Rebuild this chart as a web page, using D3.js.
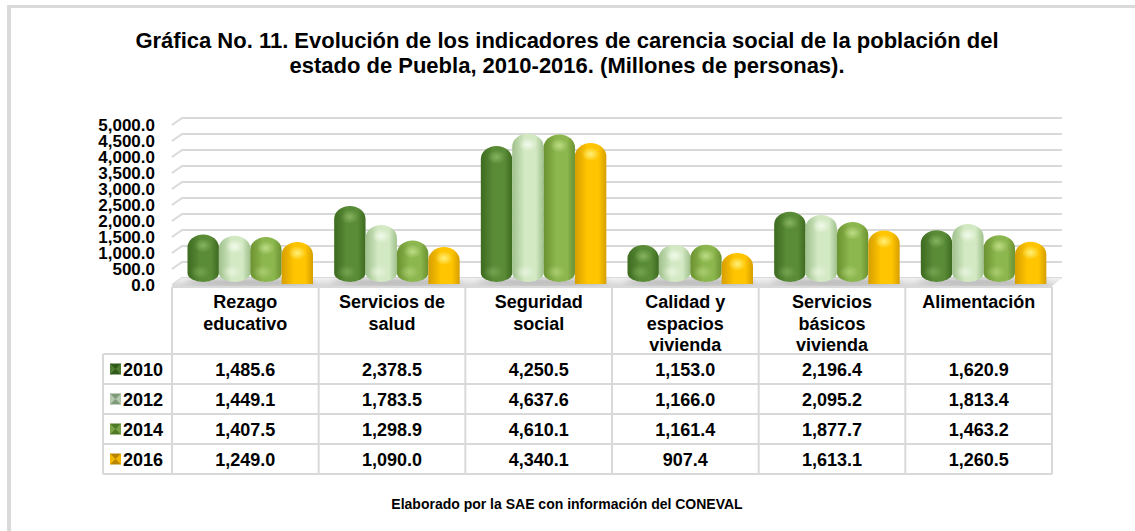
<!DOCTYPE html>
<html>
<head>
<meta charset="utf-8">
<script src="https://cdn.jsdelivr.net/npm/d3@7"></script>
<style>
  body { margin: 0; background: #fff; }
  svg { display: block; font-family: "Liberation Sans", Arial, sans-serif; }
</style>
</head>
<body>
<svg id="chart" width="1135" height="531"></svg>
<script>
// data
const categories = ["Rezago educativo", "Servicios de salud", "Seguridad social",
  "Calidad y espacios vivienda", "Servicios básicos vivienda", "Alimentación"];
const categoryLines = [["Rezago", "educativo"], ["Servicios de", "salud"], ["Seguridad", "social"],
  ["Calidad y", "espacios", "vivienda"], ["Servicios", "básicos", "vivienda"], ["Alimentación"]];
const years = ["2010", "2012", "2014", "2016"];
const values2010 = [1485.6, 2378.5, 4250.5, 1153.0, 2196.4, 1620.9];
const values2012 = [1449.1, 1783.5, 4637.6, 1166.0, 2095.2, 1813.4];
const values2014 = [1407.5, 1298.9, 4610.1, 1161.4, 1877.7, 1463.2];
const values2016 = [1249.0, 1090.0, 4340.1, 907.4, 1613.1, 1260.5];
const yTicks = [0, 500, 1000, 1500, 2000, 2500, 3000, 3500, 4000, 4500, 5000];

const series = [values2010, values2012, values2014, values2016];
// edge, mid, light
const colors = [
  ["#3d6a20", "#5a8c37", "#86b35f"],
  ["#9fc18c", "#d3e9c4", "#f2faeb"],
  ["#6a9230", "#8cb64e", "#bcdc85"],
  ["#d69e00", "#ffc500", "#fff07a"]
];
// legend key shades: dark, light
const keyColors = [["#2f5a1a", "#4f7d33"], ["#7f9a78", "#b4c8ad"], ["#4f7a25", "#7aa147"], ["#b98500", "#f0b800"]];

const svg = d3.select("#chart");
const fmt = d3.format(",.1f");

// outer frame
svg.append("rect").attr("x", 7).attr("y", 5).attr("width", 1128).attr("height", 3).attr("fill", "#d9d9d9");
svg.append("rect").attr("x", 7).attr("y", 5).attr("width", 4).attr("height", 526).attr("fill", "#d9d9d9");

// title
svg.append("text")
  .attr("x", 567).attr("text-anchor", "middle")
  .attr("font-size", 22).attr("font-weight", "bold")
  .selectAll("tspan")
  .data(["Gráfica No. 11. Evolución de los indicadores de carencia social de la población del",
         "estado de Puebla, 2010-2016. (Millones de personas)."])
  .join("tspan")
  .attr("x", 567).attr("y", (d, i) => 48 + i * 25)
  .text(d => d);

// scales
var x = d3.scaleBand().domain(categories).range([172, 1052]);
var xs = d3.scaleBand().domain(years).range([15.5, 141]);
var y = d3.scaleLinear().domain([0, 5000]).range([282, 122]);
var rows = d3.scaleBand().domain(years).range([354, 474]);
var depth = 10;

// gradients
var defs = svg.append("defs");
colors.forEach(function(c, i) {
  var g = defs.append("linearGradient").attr("id", "bar" + i)
    .attr("x1", 0).attr("x2", 1).attr("y1", 0).attr("y2", 0);
  g.append("stop").attr("offset", "0%").attr("stop-color", c[0]);
  g.append("stop").attr("offset", "40%").attr("stop-color", c[1]);
  g.append("stop").attr("offset", "75%").attr("stop-color", c[1]);
  g.append("stop").attr("offset", "100%").attr("stop-color", c[0]);
  var h = defs.append("radialGradient").attr("id", "hi" + i);
  h.append("stop").attr("offset", "0%").attr("stop-color", c[2]).attr("stop-opacity", 1);
  h.append("stop").attr("offset", "100%").attr("stop-color", c[2]).attr("stop-opacity", 0);
});
defs.append("filter").attr("id", "blur")
  .append("feGaussianBlur").attr("stdDeviation", 2.5);
var floorGrad = defs.append("linearGradient").attr("id", "floor")
  .attr("x1", 0).attr("x2", 0).attr("y1", 0).attr("y2", 1);
floorGrad.append("stop").attr("offset", "0%").attr("stop-color", "#f2f2f2");
floorGrad.append("stop").attr("offset", "100%").attr("stop-color", "#d6d6d6");

// gridlines (3D wall)
var grid = svg.append("g");
yTicks.forEach(function(t) {
  grid.append("path")
    .attr("d", "M172," + (y(t) + 3) + "L" + (172 + depth) + "," + (y(t) - 4) + "L" + (1052 + depth) + "," + (y(t) - 4))
    .attr("fill", "none").attr("stroke", "#d9d9d9").attr("stroke-width", 2);
});

// y axis labels
svg.append("g").selectAll("text").data(yTicks).join("text")
  .attr("x", 155).attr("y", d => y(d) + 9)
  .attr("text-anchor", "end").attr("font-size", 17).attr("font-weight", "bold")
  .text(d => fmt(d));

// floor
svg.append("path")
  .attr("d", "M172,286L1052,286L" + (1052 + depth) + ",278L" + (172 + depth) + ",278Z")
  .attr("fill", "url(#floor)");
svg.append("g").selectAll("ellipse").data(categories).join("ellipse")
  .attr("cx", d => x(d) + 78).attr("cy", 282)
  .attr("rx", 66).attr("ry", 3.5)
  .attr("fill", "#a8a8a8").attr("opacity", 0.7).attr("filter", "url(#blur)");

// bars
function barPath(x0, top, bottom, w, flat) {
  var rt = Math.min(13, (bottom - top) / 2);
  var rb = flat ? 0 : Math.min(9, (bottom - top) / 2);
  var p = "M" + x0 + "," + (top + rt) +
    "A" + (w / 2) + "," + rt + " 0 0 1 " + (x0 + w) + "," + (top + rt);
  if (flat) {
    p += "L" + (x0 + w) + "," + bottom + "L" + x0 + "," + bottom + "Z";
  } else {
    p += "L" + (x0 + w) + "," + (bottom - rb) +
      "A" + (w / 2) + "," + rb + " 0 0 1 " + x0 + "," + (bottom - rb) + "Z";
  }
  return p;
}

var bars = svg.append("g");
series.forEach(function(vals, i) {
  var g = bars.append("g");
  var flat = i === 3;
  g.selectAll("path").data(vals).join("path")
    .attr("d", (d, j) => barPath(x(categories[j]) + xs(years[i]), y(d), flat ? 284 : 282, xs.bandwidth(), flat))
    .attr("fill", "url(#bar" + i + ")");
  // specular highlight near the top
  g.selectAll("ellipse.top").data(vals).join("ellipse").attr("class", "top")
    .attr("cx", (d, j) => x(categories[j]) + xs(years[i]) + xs.bandwidth() * 0.5)
    .attr("cy", d => y(d) + 11)
    .attr("rx", 9).attr("ry", 7)
    .attr("fill", "url(#hi" + i + ")");
  if (!flat) {
    // soft reflection at the bottom
    g.selectAll("ellipse.bot").data(vals).join("ellipse").attr("class", "bot")
      .attr("cx", (d, j) => x(categories[j]) + xs(years[i]) + xs.bandwidth() * 0.4)
      .attr("cy", 272)
      .attr("rx", 10).attr("ry", 7)
      .attr("fill", "url(#hi" + i + ")").attr("opacity", 0.6);
  }
});

// data table
var table = svg.append("g").attr("stroke", "#d9d9d9").attr("stroke-width", 2);
table.append("line").attr("x1", 172).attr("x2", 1052).attr("y1", 287).attr("y2", 287);
years.forEach(function(yr) {
  table.append("line").attr("x1", 103).attr("x2", 1052)
    .attr("y1", rows(yr)).attr("y2", rows(yr));
});
table.append("line").attr("x1", 103).attr("x2", 1052).attr("y1", 474).attr("y2", 474);
table.append("line").attr("x1", 103).attr("x2", 103).attr("y1", 354).attr("y2", 474);
categories.concat([null]).forEach(function(c) {
  var xx = c ? x(c) : 1052;
  table.append("line").attr("x1", xx).attr("x2", xx).attr("y1", 287).attr("y2", 474);
});

// header labels
var head = svg.append("g").attr("font-size", 18).attr("font-weight", "bold").attr("text-anchor", "middle");
categoryLines.forEach(function(lines, j) {
  var cx = x(categories[j]) + x.bandwidth() / 2;
  head.append("text").selectAll("tspan").data(lines).join("tspan")
    .attr("x", cx).attr("y", (d, k) => 308 + k * 21.7)
    .text(d => d);
});

// values
var cells = svg.append("g").attr("font-size", 18).attr("font-weight", "bold").attr("text-anchor", "middle");
series.forEach(function(vals, i) {
  cells.selectAll("text.s" + i).data(vals).join("text").attr("class", "s" + i)
    .attr("x", (d, j) => x(categories[j]) + x.bandwidth() / 2)
    .attr("y", rows(years[i]) + rows.bandwidth() / 2 + 6.5)
    .text(d => fmt(d));
});

// legend keys
var leg = svg.append("g");
years.forEach(function(yr, i) {
  var cy = rows(yr) + rows.bandwidth() / 2;
  leg.append("rect").attr("x", 110).attr("y", cy - 5.5).attr("width", 11).attr("height", 11)
    .attr("fill", keyColors[i][0]);
  leg.append("path")
    .attr("d", "M110," + (cy - 5.5) + "L115.5," + cy + "L110," + (cy + 5.5) + "Z" +
      "M121," + (cy - 5.5) + "L115.5," + cy + "L121," + (cy + 5.5) + "Z")
    .attr("fill", keyColors[i][1]);
  leg.append("text").attr("x", 123).attr("y", cy + 6.5)
    .attr("font-size", 18).attr("font-weight", "bold").text(yr);
});

// footer
svg.append("text").attr("x", 567).attr("y", 509).attr("text-anchor", "middle")
  .attr("font-size", 14).attr("font-weight", "bold")
  .text("Elaborado por la SAE con información del CONEVAL");
</script>
</body>
</html>
